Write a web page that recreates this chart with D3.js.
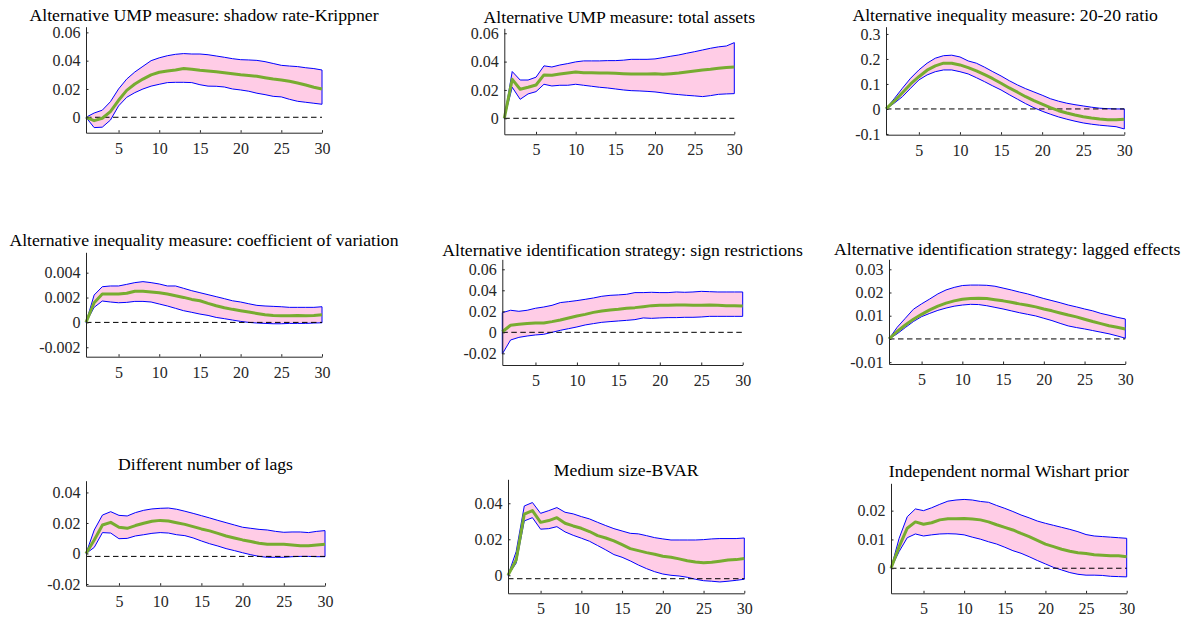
<!DOCTYPE html>
<html><head><meta charset="utf-8">
<script src="https://cdn.jsdelivr.net/npm/d3@7"></script>
<style>
html,body{margin:0;padding:0;background:#fff;}
svg{display:block;}
text{font-family:"Liberation Serif","Times New Roman",serif;}
</style></head>
<body>
<svg id="chart" width="1188" height="617"></svg>
<script>
// ---------- DATA ----------
const horizon = [1,2,3,4,5,6,7,8,9,10,11,12,13,14,15,16,17,18,19,20,21,22,23,24,25,26,27,28,29,30];
const xTicks = [5,10,15,20,25,30];

const titles = [
  "Alternative UMP measure: shadow rate-Krippner",
  "Alternative UMP measure: total assets",
  "Alternative inequality measure: 20-20 ratio",
  "Alternative inequality measure: coefficient of variation",
  "Alternative identification strategy: sign restrictions",
  "Alternative identification strategy: lagged effects",
  "Different number of lags",
  "Medium size-BVAR",
  "Independent normal Wishart prior"
];

const yTickValues = [
  [0,0.02,0.04,0.06],
  [0,0.02,0.04,0.06],
  [-0.1,0,0.1,0.2,0.3],
  [-0.002,0,0.002,0.004],
  [-0.02,0,0.02,0.04,0.06],
  [-0.01,0,0.01,0.02,0.03],
  [-0.02,0,0.02,0.04],
  [0,0.02,0.04],
  [0,0.01,0.02]
];
const yTickLabels = [
  ["0","0.02","0.04","0.06"],
  ["0","0.02","0.04","0.06"],
  ["-0.1","0","0.1","0.2","0.3"],
  ["-0.002","0","0.002","0.004"],
  ["-0.02","0","0.02","0.04","0.06"],
  ["-0.01","0","0.01","0.02","0.03"],
  ["-0.02","0","0.02","0.04"],
  ["0","0.02","0.04"],
  ["0","0.01","0.02"]
];
const yLimits = [
  [-0.0109,0.064],
  [-0.0113,0.0635],
  [-0.103,0.329],
  [-0.00276,0.00564],
  [-0.0311,0.0695],
  [-0.0108,0.0343],
  [-0.0211,0.0477],
  [-0.0100,0.0533],
  [-0.0087,0.0295]
];
const zeroLines = [0,0,0,0,0,0,-0.0019,-0.0019,0];

// 1 shadow rate
const med1 = [0,-0.0024,-0.0007,0.004,0.012,0.019,0.0235,0.027,0.030,0.0318,0.0327,0.0334,0.0344,0.0339,0.0332,0.0327,0.0322,0.0315,0.0308,0.0301,0.0296,0.029,0.028,0.027,0.0264,0.0254,0.0242,0.0228,0.0212,0.020];
const hi1  = [0,0.003,0.005,0.011,0.020,0.027,0.032,0.036,0.040,0.042,0.0435,0.0445,0.045,0.0447,0.0447,0.0442,0.0433,0.0424,0.0414,0.0407,0.0405,0.0402,0.0393,0.038,0.0367,0.0362,0.0358,0.035,0.0344,0.0334];
const lo1  = [0,-0.0073,-0.007,-0.002,0.008,0.0141,0.0174,0.020,0.022,0.0233,0.0245,0.0247,0.0247,0.0245,0.023,0.022,0.0219,0.0214,0.020,0.0193,0.0184,0.017,0.016,0.0148,0.0144,0.0127,0.0113,0.0106,0.0099,0.0092];
// 2 total assets
const med2 = [0,0.0275,0.0205,0.0219,0.0235,0.0306,0.0304,0.0313,0.032,0.0327,0.0322,0.0322,0.032,0.032,0.0318,0.0315,0.0313,0.0313,0.0313,0.0315,0.031,0.0315,0.032,0.0327,0.0334,0.0341,0.0346,0.0353,0.0358,0.0362];
const hi2  = [0,0.033,0.027,0.027,0.029,0.037,0.0362,0.0376,0.0386,0.0398,0.0405,0.0405,0.0405,0.0407,0.0407,0.041,0.0416,0.0416,0.0416,0.0419,0.0428,0.0438,0.0447,0.0459,0.047,0.0482,0.0494,0.0504,0.051,0.0534];
const lo2  = [0,0.0219,0.0134,0.0172,0.0188,0.024,0.0228,0.0233,0.0233,0.024,0.0233,0.0226,0.0219,0.0214,0.0207,0.020,0.0195,0.0193,0.019,0.0186,0.0179,0.0172,0.0167,0.0162,0.0158,0.0153,0.016,0.0169,0.0172,0.0174];
// 3 20-20 ratio
const med3 = [0,0.031,0.065,0.100,0.129,0.155,0.172,0.183,0.183,0.176,0.165,0.152,0.137,0.121,0.103,0.084,0.067,0.049,0.033,0.019,0.005,-0.007,-0.016,-0.024,-0.031,-0.036,-0.040,-0.043,-0.043,-0.041];
const hi3  = [0,0.041,0.083,0.123,0.156,0.183,0.203,0.213,0.215,0.208,0.192,0.183,0.167,0.149,0.132,0.113,0.096,0.081,0.068,0.055,0.041,0.031,0.023,0.017,0.012,0.007,0.003,0.001,0,0];
const lo3  = [0,0.023,0.049,0.083,0.116,0.136,0.149,0.156,0.156,0.149,0.140,0.125,0.109,0.092,0.076,0.057,0.039,0.021,0.005,-0.009,-0.021,-0.032,-0.041,-0.049,-0.056,-0.061,-0.065,-0.068,-0.071,-0.080];
// 4 coefficient of variation
const med4 = [0,0.00158,0.00228,0.00228,0.00228,0.00234,0.0025,0.0025,0.00244,0.00239,0.00228,0.00215,0.00201,0.00185,0.00174,0.00153,0.00134,0.00118,0.00105,0.00094,0.00083,0.00072,0.00062,0.00056,0.00054,0.00054,0.00056,0.00054,0.00056,0.00062];
const hi4  = [0,0.0022,0.00287,0.00293,0.00293,0.00306,0.0032,0.00328,0.0032,0.00309,0.00293,0.00293,0.00274,0.00255,0.00239,0.00223,0.00207,0.00191,0.00174,0.00164,0.0015,0.00137,0.00132,0.00129,0.00126,0.00121,0.00121,0.00121,0.00121,0.00126];
const lo4  = [0,0.00121,0.00172,0.00164,0.00158,0.00161,0.00169,0.00169,0.00164,0.00148,0.00132,0.00113,0.00094,0.00081,0.00067,0.00056,0.0004,0.0003,0.00019,0.00008,0,-0.00005,-0.00008,-0.00011,-0.00011,-0.00008,-0.00008,-0.00008,-0.00005,-0.00003];
// 5 sign restrictions
const med5 = [0.0006,0.0067,0.0076,0.0083,0.0089,0.0089,0.0102,0.0117,0.0137,0.0156,0.0171,0.019,0.0203,0.0213,0.0219,0.0229,0.0235,0.0244,0.0254,0.0257,0.0257,0.026,0.026,0.0257,0.0257,0.026,0.0257,0.0254,0.0254,0.0251];
const hi5  = [0.0187,0.021,0.020,0.021,0.0229,0.0241,0.0257,0.0283,0.0292,0.0302,0.0314,0.0327,0.0343,0.0352,0.0356,0.0362,0.0378,0.0378,0.0381,0.0378,0.0378,0.0384,0.0381,0.0384,0.039,0.0387,0.0384,0.0384,0.0384,0.0384];
const lo5  = [-0.0206,-0.0073,-0.0048,-0.0035,-0.0025,-0.0019,0,0.0019,0.0035,0.0051,0.007,0.0083,0.0095,0.0102,0.0108,0.0114,0.0121,0.0137,0.0133,0.0137,0.014,0.014,0.0143,0.0143,0.0146,0.0152,0.0152,0.0152,0.0152,0.0152];
// 6 lagged effects
const med6 = [0,0.0032,0.006,0.0085,0.0106,0.0125,0.0141,0.0154,0.0164,0.0171,0.0174,0.0175,0.0174,0.0169,0.0164,0.0158,0.0151,0.0145,0.0138,0.0129,0.0121,0.0112,0.0103,0.0095,0.0085,0.0075,0.0066,0.0057,0.005,0.0043];
const hi6  = [0,0.005,0.0089,0.0128,0.0151,0.0172,0.0194,0.0211,0.0222,0.023,0.0232,0.0232,0.0231,0.0227,0.0219,0.0211,0.0202,0.0194,0.0184,0.0174,0.0165,0.0156,0.0146,0.0138,0.0129,0.0121,0.011,0.0102,0.0093,0.0086];
const lo6  = [0,0.0022,0.0049,0.0075,0.0096,0.011,0.0123,0.0133,0.0141,0.0146,0.0149,0.0148,0.0143,0.0136,0.0129,0.0121,0.0113,0.0106,0.0099,0.0089,0.0079,0.0067,0.0056,0.0049,0.0043,0.0036,0.0029,0.0022,0.0013,0.0003];
// 7 number of lags
const med7 = [0,0.0089,0.0187,0.0204,0.0172,0.0165,0.0183,0.0198,0.0211,0.0217,0.0213,0.0202,0.0191,0.0176,0.0161,0.0148,0.0132,0.0115,0.0102,0.0089,0.0078,0.0067,0.006,0.006,0.006,0.0056,0.0051,0.0051,0.0056,0.006];
const hi7  = [0,0.0154,0.0252,0.0274,0.025,0.0246,0.0268,0.0283,0.0292,0.0296,0.0298,0.029,0.0277,0.0263,0.0248,0.0233,0.0217,0.0202,0.0187,0.0172,0.0165,0.0158,0.0154,0.0145,0.0139,0.0141,0.0141,0.0137,0.0145,0.015];
const lo7  = [0,0.004,0.0137,0.0134,0.0097,0.0099,0.0115,0.0123,0.0132,0.0137,0.0134,0.0123,0.0117,0.0102,0.0082,0.0064,0.0049,0.0032,0.0019,0.0005,-0.0008,-0.0019,-0.0025,-0.0025,-0.0025,-0.0021,-0.0019,-0.0019,-0.0021,-0.0021];
// 8 medium size BVAR
const med8 = [0,0.0085,0.034,0.0359,0.0294,0.0304,0.032,0.0289,0.0274,0.0261,0.0243,0.022,0.0207,0.0191,0.017,0.0148,0.0137,0.0126,0.0117,0.0106,0.010,0.0091,0.0081,0.0074,0.007,0.0072,0.0078,0.0085,0.0087,0.0093];
const hi8  = [0,0.0131,0.0385,0.0404,0.0344,0.0359,0.0376,0.035,0.0341,0.0326,0.0313,0.0294,0.0276,0.0259,0.0246,0.0233,0.023,0.022,0.0209,0.0202,0.0196,0.0196,0.0196,0.0196,0.0198,0.0202,0.0204,0.0204,0.0204,0.0207];
const lo8  = [0,0.0067,0.0302,0.032,0.0256,0.0259,0.027,0.0241,0.0222,0.0206,0.0189,0.0165,0.0141,0.0115,0.010,0.008,0.0057,0.0037,0.002,0.0007,0,-0.0004,-0.0011,-0.0022,-0.003,-0.0033,-0.0037,-0.0033,-0.0028,-0.0022];
// 9 independent normal Wishart prior
const med9 = [0,0.0075,0.0139,0.0161,0.0153,0.0158,0.0168,0.0172,0.0172,0.0173,0.0171,0.0168,0.0161,0.0151,0.0142,0.0133,0.0121,0.011,0.0097,0.0084,0.0075,0.0066,0.0059,0.0054,0.0051,0.0047,0.0045,0.0043,0.0043,0.004];
const hi9  = [0,0.0104,0.0179,0.0206,0.020,0.021,0.0222,0.0233,0.0237,0.0239,0.0237,0.0232,0.0229,0.0218,0.0208,0.0197,0.0185,0.0175,0.0164,0.0156,0.0149,0.0142,0.0135,0.0127,0.0117,0.0112,0.011,0.0108,0.0106,0.0104];
const lo9  = [0,0.0058,0.0106,0.0119,0.0112,0.0116,0.0119,0.012,0.0119,0.0116,0.0108,0.0101,0.0092,0.0084,0.0073,0.0061,0.0052,0.004,0.0027,0.0015,0.0003,-0.0006,-0.0015,-0.0021,-0.0024,-0.0024,-0.0025,-0.0028,-0.0029,-0.003];

const medians = [med1,med2,med3,med4,med5,med6,med7,med8,med9];
const uppers  = [hi1,hi2,hi3,hi4,hi5,hi6,hi7,hi8,hi9];
const lowers  = [lo1,lo2,lo3,lo4,lo5,lo6,lo7,lo8,lo9];

// ---------- LAYOUT (pixel boxes of each axes) ----------
const layout = [
  {l:86,    r:322,    t:26.7,  b:132.7, ty:21},
  {l:504.3, r:734.3,  t:28.3,  b:134.3, ty:23},
  {l:886,   r:1124.3, t:26.7,  b:134.7, ty:20.5},
  {l:86,    r:322,    t:252.3, b:356.7, ty:246},
  {l:502.3, r:742.7,  t:259.3, b:365,   ty:256},
  {l:889,   r:1125.3, t:259.3, b:364,   ty:255},
  {l:86,    r:325,    t:480.7, b:585.7, ty:469.5},
  {l:508,   r:744.3,  t:479.3, b:593.3, ty:475.5},
  {l:891,   r:1126.7, t:483.3, b:593.3, ty:477.3}
];

const style = {
  axis:"#262626", fill:"rgb(255,204,230)", edge:"#0000ff", med:"rgb(119,172,48)",
  titleSize:17.7, tickSize:16
};

// ---------- DRAW ----------
const svg = d3.select("#chart");

titles.forEach((title, i) => {
  const L = layout[i];
  const x = d3.scaleLinear().domain([1,30]).range([L.l, L.r]);
  const y = d3.scaleLinear().domain(yLimits[i]).range([L.b, L.t]);
  const rows = horizon.map((h,k) => ({h, m:medians[i][k], u:uppers[i][k], lo:lowers[i][k]}));
  const g = svg.append("g");

  // band
  g.append("path").datum(rows)
    .attr("d", d3.area().x(d=>x(d.h)).y0(d=>y(d.lo)).y1(d=>y(d.u)))
    .attr("fill", style.fill).attr("stroke", style.edge).attr("stroke-width", 1)
    .attr("stroke-linejoin","miter");

  // zero line
  g.append("line")
    .attr("x1", x(1)).attr("x2", x(30))
    .attr("y1", y(zeroLines[i])).attr("y2", y(zeroLines[i]))
    .attr("stroke", "#000").attr("stroke-width", 1).attr("stroke-dasharray","5.5,3.5");

  // median
  g.append("path").datum(rows)
    .attr("d", d3.line().x(d=>x(d.h)).y(d=>y(d.m)))
    .attr("fill","none").attr("stroke", style.med).attr("stroke-width", 3)
    .attr("stroke-linejoin","round");

  // axes
  const yAxis = d3.axisLeft(y).tickValues(yTickValues[i])
    .tickFormat((d,k)=>yTickLabels[i][k]).tickSizeInner(-2.5).tickSizeOuter(0).tickPadding(5.5);
  const ya = g.append("g").attr("transform",`translate(${L.l},0)`).call(yAxis);
  const xAxis = d3.axisBottom(x).tickValues(xTicks).tickFormat(d=>String(d))
    .tickSizeInner(-2.5).tickSizeOuter(0).tickPadding(9.5);
  const xa = g.append("g").attr("transform",`translate(0,${L.b})`).call(xAxis);
  [ya, xa].forEach(a => {
    a.select(".domain").attr("stroke", style.axis).attr("stroke-width",1);
    a.selectAll(".tick line").attr("stroke", style.axis).attr("stroke-width",1);
    a.selectAll(".tick text").attr("fill", style.axis)
      .style("font-family",'"Liberation Serif","Times New Roman",serif').style("font-size", style.tickSize+"px");
  });

  // title
  g.append("text").attr("x", (L.l+L.r)/2).attr("y", L.ty)
    .attr("text-anchor","middle").attr("fill","#000")
    .style("font-size", style.titleSize+"px").text(title);
});
</script>
</body></html>
